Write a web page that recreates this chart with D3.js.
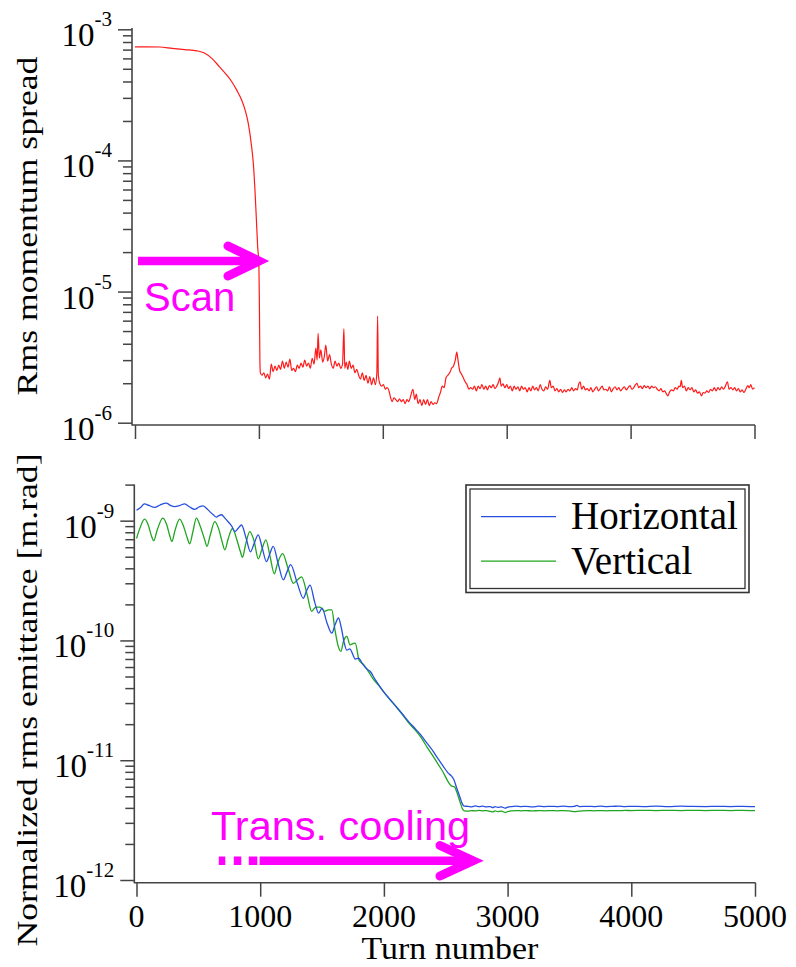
<!DOCTYPE html>
<html><head><meta charset="utf-8">
<script src="https://cdn.jsdelivr.net/npm/d3@7"></script>
<style>body{margin:0;background:#fff}svg{display:block}</style>
</head><body>
<script>
// ---------- data ----------
const turnTicks = [0, 1000, 2000, 3000, 4000, 5000];
const momDecades = [1e-6, 1e-5, 1e-4, 1e-3];
const emitDecades = [1e-12, 1e-11, 1e-10, 1e-9];
const minorMultipliers = [2, 3, 4, 5, 6, 7, 8, 9];
const legendLabels = ["Horizontal", "Vertical"];
const annotations = ["Scan", "Trans. cooling"];
const axisTitles = ["Rms momentum spread", "Normalized rms emittance [m.rad]", "Turn number"];

// [turn, rms momentum spread]
const momentum = [
[0,7.35e-4],[100,7.35e-4],[200,7.33e-4],[300,7.15e-4],[400,7.0e-4],[500,6.85e-4],[560,6.6e-4],
[620,6.0e-4],[680,5.2e-4],[730,4.6e-4],[780,4.0e-4],[820,3.45e-4],[860,2.9e-4],[890,2.4e-4],
[915,1.9e-4],[940,1.3e-4],[955,9.5e-5],[968,6.0e-5],[980,3.5e-5],[990,2.2e-5],[1000,1.6e-5],
[1004,8e-6],[1008,3e-6],[1012,2.4e-6],
[1025,2.3e-6],[1040,2.4e-6],[1055,2.2e-6],[1070,2.35e-6],[1085,2.15e-6],[1100,2.8e-6],[1115,2.45e-6],
[1130,2.7e-6],[1145,2.5e-6],[1160,2.75e-6],[1175,2.55e-6],[1190,2.95e-6],[1205,2.6e-6],[1220,2.9e-6],
[1235,2.65e-6],[1250,3.05e-6],[1265,2.5e-6],[1280,2.6e-6],[1295,2.45e-6],[1310,2.75e-6],[1325,2.6e-6],
[1340,2.85e-6],[1355,2.65e-6],[1370,3.0e-6],[1385,2.7e-6],[1400,2.85e-6],[1415,2.6e-6],[1430,3.1e-6],
[1445,2.8e-6],[1460,3.7e-6],[1470,3.0e-6],[1478,4.8e-6],[1488,3.1e-6],[1500,3.6e-6],[1515,2.9e-6],
[1528,3.2e-6],[1540,3.9e-6],[1555,2.95e-6],[1570,3.3e-6],[1585,2.8e-6],[1600,2.6e-6],[1615,2.95e-6],
[1630,2.7e-6],[1645,2.85e-6],[1660,2.6e-6],[1675,2.8e-6],[1686,5.2e-6],[1693,2.6e-6],[1705,2.9e-6],
[1718,2.55e-6],[1730,2.95e-6],[1745,2.6e-6],[1760,2.75e-6],[1775,2.4e-6],[1790,2.55e-6],[1805,2.3e-6],
[1820,2.15e-6],[1835,2.4e-6],[1850,2.1e-6],[1865,2.3e-6],[1880,2.0e-6],[1895,2.25e-6],[1910,1.95e-6],
[1925,2.2e-6],[1940,1.95e-6],[1952,2.4e-6],[1958,6.5e-6],[1964,2.3e-6],[1975,2.0e-6],[1990,1.9e-6],
[2005,1.95e-6],[2020,1.8e-6],[2035,1.85e-6],[2050,1.75e-6],[2063,1.55e-6],[2076,1.45e-6],[2090,1.55e-6],
[2105,1.5e-6],[2120,1.45e-6],[2135,1.52e-6],[2150,1.45e-6],[2165,1.5e-6],[2180,1.4e-6],[2195,1.5e-6],
[2210,1.45e-6],[2225,1.6e-6],[2243,1.8e-6],[2258,1.5e-6],[2270,1.65e-6],[2285,1.4e-6],[2300,1.5e-6],
[2315,1.35e-6],[2330,1.5e-6],[2345,1.38e-6],[2360,1.5e-6],[2375,1.35e-6],[2390,1.45e-6],[2405,1.38e-6],
[2420,1.42e-6],[2435,1.4e-6],[2450,1.55e-6],[2465,1.7e-6],[2480,1.9e-6],[2495,1.85e-6],[2510,2.2e-6],
[2525,2.3e-6],[2540,2.4e-6],[2555,2.6e-6],[2570,2.7e-6],[2585,3.0e-6],[2597,3.45e-6],[2608,2.95e-6],
[2620,2.5e-6],[2635,2.35e-6],[2650,2.2e-6],[2665,2.05e-6],[2680,1.95e-6],[2695,1.8e-6],[2710,1.85e-6],
[2725,1.8e-6],[2740,1.9e-6],[2755,1.75e-6],[2770,1.9e-6],[2785,1.82e-6],[2800,1.95e-6],[2815,1.8e-6],
[2830,1.9e-6],[2845,1.78e-6],[2860,1.92e-6],[2875,1.85e-6],[2890,1.95e-6],[2905,1.82e-6],[2920,1.9e-6],
[2935,2.05e-6],[2945,2.2e-6],[2955,1.9e-6],[2970,1.98e-6],[2985,1.85e-6],[3000,1.95e-6],[3015,1.82e-6],
[3030,1.9e-6],[3045,1.75e-6],[3060,1.9e-6],[3075,1.8e-6],[3090,1.88e-6],[3105,1.75e-6],[3120,1.9e-6],
[3135,1.8e-6],[3150,1.85e-6],[3165,1.72e-6],[3180,1.85e-6],[3195,1.75e-6],[3210,1.9e-6],[3225,1.78e-6],
[3240,1.85e-6],[3255,1.75e-6],[3270,1.95e-6],[3285,1.8e-6],[3300,1.75e-6],[3315,1.88e-6],[3330,1.8e-6],
[3348,2.1e-6],[3360,1.85e-6],[3375,1.9e-6],[3390,1.75e-6],[3405,1.82e-6],[3420,1.72e-6],[3435,1.8e-6],
[3450,1.7e-6],[3465,1.78e-6],[3480,1.72e-6],[3495,1.8e-6],[3510,1.75e-6],[3525,1.85e-6],[3540,1.75e-6],
[3555,1.82e-6],[3570,1.78e-6],[3580,1.95e-6],[3592,2.05e-6],[3605,1.8e-6],[3620,1.9e-6],[3635,1.78e-6],
[3650,1.82e-6],[3665,1.75e-6],[3680,1.85e-6],[3695,1.72e-6],[3710,1.8e-6],[3725,1.88e-6],[3740,1.75e-6],
[3755,1.82e-6],[3770,1.9e-6],[3785,1.78e-6],[3800,1.8e-6],[3815,1.75e-6],[3830,1.88e-6],[3845,1.72e-6],
[3860,1.82e-6],[3875,1.88e-6],[3890,1.78e-6],[3905,1.85e-6],[3920,1.75e-6],[3935,1.82e-6],[3950,1.88e-6],
[3965,1.78e-6],[3980,1.85e-6],[3995,1.92e-6],[4010,1.8e-6],[4025,1.85e-6],[4040,1.95e-6],[4052,2.0e-6],
[4065,1.85e-6],[4080,1.9e-6],[4095,1.82e-6],[4110,1.92e-6],[4125,1.85e-6],[4140,1.9e-6],[4155,1.82e-6],
[4170,1.9e-6],[4185,1.85e-6],[4200,1.88e-6],[4215,1.8e-6],[4230,1.75e-6],[4245,1.82e-6],[4260,1.72e-6],
[4275,1.75e-6],[4290,1.65e-6],[4300,1.6e-6],[4315,1.72e-6],[4330,1.78e-6],[4345,1.75e-6],[4360,1.85e-6],
[4375,1.8e-6],[4390,1.9e-6],[4400,1.88e-6],[4409,2.1e-6],[4420,1.85e-6],[4435,1.9e-6],[4450,1.75e-6],
[4465,1.85e-6],[4480,1.78e-6],[4495,1.85e-6],[4510,1.72e-6],[4525,1.78e-6],[4540,1.68e-6],[4555,1.72e-6],
[4572,1.6e-6],[4585,1.7e-6],[4600,1.68e-6],[4615,1.75e-6],[4630,1.7e-6],[4645,1.8e-6],[4660,1.75e-6],
[4675,1.85e-6],[4690,1.75e-6],[4705,1.85e-6],[4720,1.78e-6],[4735,1.88e-6],[4750,1.8e-6],[4765,1.9e-6],
[4781,2.05e-6],[4795,1.8e-6],[4810,1.85e-6],[4825,1.78e-6],[4840,1.85e-6],[4855,1.75e-6],[4870,1.82e-6],
[4885,1.72e-6],[4900,1.78e-6],[4915,1.7e-6],[4930,1.8e-6],[4945,1.92e-6],[4958,1.85e-6],[4970,1.95e-6],
[4985,1.8e-6],[5000,1.85e-6]
];

// [turn, normalized rms emittance] horizontal
const horizontal = [
[0,1.22e-9],[30,1.28e-9],[65,1.38e-9],[100,1.34e-9],[146,1.29e-9],[190,1.35e-9],[241,1.40e-9],
[275,1.34e-9],[308,1.31e-9],[350,1.34e-9],[389,1.38e-9],[430,1.30e-9],[470,1.24e-9],[505,1.30e-9],
[538,1.33e-9],[565,1.27e-9],[592,1.19e-9],[620,1.12e-9],[646,1.07e-9],[665,1.10e-9],[687,1.12e-9],
[715,1.05e-9],[741,0.98e-9],[770,0.90e-9],[795,0.81e-9],[820,0.86e-9],[849,0.92e-9],[885,0.72e-9],
[922,0.55e-9],[950,0.64e-9],[984,0.76e-9],[1015,0.60e-9],[1051,0.455e-9],[1078,0.53e-9],[1105,0.61e-9],
[1145,0.44e-9],[1187,0.32e-9],[1215,0.37e-9],[1246,0.43e-9],[1300,0.30e-9],[1349,0.225e-9],[1375,0.26e-9],
[1403,0.29e-9],[1440,0.21e-9],[1472,0.169e-9],[1500,0.186e-9],[1540,0.14e-9],[1579,0.115e-9],[1605,0.135e-9],
[1633,0.154e-9],[1656,0.127e-9],[1680,0.095e-9],[1700,0.083e-9],[1725,0.085e-9],[1745,0.078e-9],[1768,0.070e-9],
[1795,0.071e-9],[1830,0.063e-9],[1860,0.058e-9],[1890,0.055e-9],[1930,0.047e-9],[2000,0.037e-9],
[2050,0.0322e-9],[2100,0.028e-9],[2150,0.0243e-9],[2200,0.021e-9],[2250,0.0185e-9],[2300,0.0162e-9],
[2350,0.0138e-9],[2400,0.0118e-9],[2440,0.0102e-9],[2480,0.0089e-9],[2520,0.0078e-9],[2545,0.0074e-9],
[2565,0.0069e-9],[2590,0.0058e-9],[2615,0.0049e-9],[2635,0.0043e-9],[2650,0.00414e-9],
[2680,4.12e-12],[2710,4.08e-12],[2740,4.15e-12],[2770,4.1e-12],[2800,4.13e-12],[2830,4.08e-12],[2860,4.1e-12],
[2880,4.02e-12],[2900,4.1e-12],[2920,4.04e-12],[2950,4.08e-12],[2980,3.98e-12],[3000,4.05e-12],[3030,4.1e-12],
[3070,4.13e-12],[3110,4.1e-12],[3150,4.12e-12],[3200,4.08e-12],[3250,4.13e-12],[3300,4.1e-12],[3350,4.12e-12],
[3400,4.1e-12],[3450,4.14e-12],[3500,4.1e-12],[3540,4.12e-12],[3560,4.2e-12],[3580,4.1e-12],[3650,4.12e-12],
[3700,4.1e-12],[3750,4.14e-12],[3800,4.1e-12],[3850,4.12e-12],[3900,4.14e-12],[3950,4.1e-12],[4000,4.12e-12],
[4100,4.1e-12],[4200,4.14e-12],[4300,4.1e-12],[4400,4.13e-12],[4500,4.11e-12],[4600,4.1e-12],[4700,4.12e-12],
[4800,4.1e-12],[4900,4.12e-12],[5000,4.1e-12]
];

// [turn, normalized rms emittance] vertical
const vertical = [
[0,0.71e-9],[25,0.85e-9],[65,1.03e-9],[95,0.92e-9],[120,0.75e-9],[140,0.68e-9],[165,0.82e-9],
[213,1.05e-9],[245,0.92e-9],[270,0.74e-9],[286,0.67e-9],[310,0.82e-9],[349,1.03e-9],[380,0.90e-9],
[410,0.72e-9],[430,0.64e-9],[455,0.80e-9],[484,1.05e-9],[515,0.90e-9],[550,0.70e-9],[570,0.61e-9],
[595,0.75e-9],[633,0.98e-9],[665,0.85e-9],[695,0.65e-9],[714,0.57e-9],[740,0.70e-9],[776,0.86e-9],
[810,0.70e-9],[840,0.55e-9],[857,0.495e-9],[880,0.62e-9],[916,0.81e-9],[950,0.68e-9],[985,0.48e-9],
[1010,0.56e-9],[1046,0.69e-9],[1080,0.50e-9],[1114,0.36e-9],[1140,0.44e-9],[1181,0.53e-9],[1225,0.40e-9],
[1268,0.30e-9],[1300,0.32e-9],[1335,0.34e-9],[1380,0.24e-9],[1416,0.175e-9],[1450,0.19e-9],[1483,0.19e-9],
[1520,0.175e-9],[1550,0.18e-9],[1579,0.18e-9],[1604,0.123e-9],[1630,0.09e-9],[1652,0.081e-9],[1675,0.10e-9],
[1701,0.108e-9],[1726,0.092e-9],[1750,0.094e-9],[1768,0.095e-9],[1800,0.068e-9],[1835,0.063e-9],
[1870,0.056e-9],[1917,0.047e-9],[1960,0.042e-9],[2000,0.037e-9],[2050,0.032e-9],[2100,0.0278e-9],
[2150,0.024e-9],[2200,0.0205e-9],[2250,0.018e-9],[2300,0.0155e-9],[2350,0.0128e-9],[2400,0.0107e-9],
[2440,0.0092e-9],[2480,0.0079e-9],[2520,0.0066e-9],[2545,0.0061e-9],[2570,0.006e-9],[2590,0.0054e-9],
[2615,0.0045e-9],[2635,0.00392e-9],[2650,0.00378e-9],
[2680,3.76e-12],[2710,3.8e-12],[2740,3.77e-12],[2770,3.82e-12],[2800,3.78e-12],[2830,3.8e-12],[2860,3.74e-12],
[2880,3.7e-12],[2900,3.78e-12],[2920,3.72e-12],[2950,3.76e-12],[2980,3.66e-12],[3000,3.72e-12],[3030,3.78e-12],
[3070,3.8e-12],[3110,3.78e-12],[3150,3.8e-12],[3200,3.77e-12],[3250,3.8e-12],[3300,3.78e-12],[3350,3.8e-12],
[3400,3.78e-12],[3450,3.8e-12],[3500,3.77e-12],[3550,3.72e-12],[3600,3.78e-12],[3650,3.8e-12],[3700,3.78e-12],
[3750,3.8e-12],[3800,3.78e-12],[3850,3.8e-12],[3900,3.79e-12],[3950,3.81e-12],[4000,3.8e-12],[4100,3.82e-12],
[4200,3.8e-12],[4300,3.82e-12],[4400,3.8e-12],[4500,3.82e-12],[4600,3.8e-12],[4700,3.82e-12],[4800,3.8e-12],
[4900,3.82e-12],[5000,3.8e-12]
];

// ---------- drawing ----------
const W = 796, H = 967;
const axisColor = "#444";
const serif = "'Liberation Serif','Times New Roman',serif";
const sans = "'Liberation Sans',Arial,sans-serif";
const magenta = "#ff00ff";

const svg = d3.select("body").append("svg").attr("width", W).attr("height", H)
  .style("background", "#fff");

const xTop = d3.scaleLinear().domain([0, 5000]).range([135, 754.5]);
const yTop = d3.scaleLog().domain([1e-6, 1e-3]).range([422.7, 29.3]);
const xBot = d3.scaleLinear().domain([0, 5000]).range([136.5, 755]);
const yBot = d3.scaleLog().domain([1e-12, 2e-9]).range([880, 484.6]);

function drawPanel(x, y, decades, yAxisX, xAxisY, yTopPix, showXLabels) {
  const g = svg.append("g");
  const minors = [];
  decades.forEach(d => minorMultipliers.forEach(m => {
    const v = d * m;
    if (v <= y.domain()[1] * 1.0001) minors.push(v);
  }));
  const yMinor = g.append("g").attr("transform", `translate(${yAxisX},0)`)
    .call(d3.axisLeft(y).tickValues(minors).tickSize(9).tickFormat(""));
  const yMajor = g.append("g").attr("transform", `translate(${yAxisX},0)`)
    .call(d3.axisLeft(y).tickValues(decades).tickSize(14).tickFormat(""));
  const xAx = g.append("g").attr("transform", `translate(0,${xAxisY})`)
    .call(d3.axisBottom(x).tickValues(turnTicks).tickSize(14).tickFormat(""));
  [yMinor, yMajor, xAx].forEach(a => {
    a.select(".domain").remove();
    a.selectAll(".tick line").attr("stroke", axisColor).attr("stroke-width", 1.5);
  });
  g.append("line").attr("x1", yAxisX).attr("x2", yAxisX).attr("y1", yTopPix).attr("y2", xAxisY + 0.5)
    .attr("stroke", axisColor).attr("stroke-width", 1.6);
  g.append("line").attr("x1", yAxisX).attr("x2", x.range()[1] + 0.5).attr("y1", xAxisY).attr("y2", xAxisY)
    .attr("stroke", axisColor).attr("stroke-width", 1.6);
  decades.forEach(d => {
    const e = Math.round(Math.log10(d));
    const t = g.append("text").attr("x", yAxisX - 20).attr("y", y(d) + 17)
      .attr("text-anchor", "end").attr("font-family", serif).attr("font-size", 33).attr("fill", "#000");
    t.append("tspan").text("10");
    t.append("tspan").attr("dy", -20).attr("font-size", 21).text(String(e));
  });
  if (showXLabels) {
    turnTicks.forEach(v => {
      g.append("text").attr("x", x(v)).attr("y", xAxisY + 44).attr("text-anchor", "middle")
        .attr("font-family", serif).attr("font-size", 32).attr("fill", "#000").text(v);
    });
  }
  return g;
}

drawPanel(xTop, yTop, momDecades, 132, 425, 28, false);
drawPanel(xBot, yBot, emitDecades, 134.3, 882.7, 484.6, true);

function yTitle(txt, cx, cy) {
  svg.append("text").attr("transform", `translate(${cx},${cy}) rotate(-90) scale(1.23,1)`)
    .attr("text-anchor", "middle").attr("font-family", serif).attr("font-size", 29)
    .attr("fill", "#000").text(txt);
}
yTitle(axisTitles[0], 37, 226);
yTitle(axisTitles[1], 37, 700);

svg.append("text").attr("x", 450).attr("y", 959.5).attr("text-anchor", "middle")
  .attr("font-family", serif).attr("font-size", 32).attr("fill", "#000")
  .attr("transform", "translate(450,0) scale(1.06,1) translate(-450,0)").text(axisTitles[2]);

const lineTop = d3.line().x(d => xTop(d[0])).y(d => yTop(d[1])).curve(d3.curveMonotoneX);
const lineBot = d3.line().x(d => xBot(d[0])).y(d => yBot(d[1])).curve(d3.curveMonotoneX);
svg.append("path").datum(momentum).attr("d", lineTop).attr("fill", "none")
  .attr("stroke", "#ff1a1a").attr("stroke-width", 1.2).attr("stroke-linejoin", "round");
svg.append("path").datum(vertical).attr("d", lineBot).attr("fill", "none")
  .attr("stroke", "#1fa51f").attr("stroke-width", 1.3).attr("stroke-linejoin", "round");
svg.append("path").datum(horizontal).attr("d", lineBot).attr("fill", "none")
  .attr("stroke", "#2850e0").attr("stroke-width", 1.3).attr("stroke-linejoin", "round");

const lg = svg.append("g");
lg.append("rect").attr("x", 466).attr("y", 485).attr("width", 283).attr("height", 107.5)
  .attr("fill", "#fff").attr("stroke", "#333").attr("stroke-width", 1.6);
lg.append("rect").attr("x", 470).attr("y", 489).attr("width", 275).attr("height", 99.5)
  .attr("fill", "none").attr("stroke", "#333").attr("stroke-width", 1.3);
const legendColors = ["#2850e0", "#1fa51f"];
legendLabels.forEach((l, i) => {
  const yy = 516.7 + i * 44.5;
  lg.append("line").attr("x1", 481).attr("x2", 556).attr("y1", yy).attr("y2", yy)
    .attr("stroke", legendColors[i]).attr("stroke-width", 1.3);
  lg.append("text").attr("x", 571).attr("y", yy + 12.7).attr("font-family", serif)
    .attr("font-size", 39).attr("fill", "#000").text(l);
});

const scanTipX = xTop(1000), scanY = 261;
svg.append("line").attr("x1", 138).attr("x2", scanTipX - 3).attr("y1", scanY).attr("y2", scanY)
  .attr("stroke", magenta).attr("stroke-width", 8.5);
svg.append("path").attr("d", `M228,246 L${scanTipX},${scanY} L228,276`).attr("fill", "none")
  .attr("stroke", magenta).attr("stroke-width", 9).attr("stroke-linecap", "round").attr("stroke-linejoin", "miter");
svg.append("text").attr("x", 144).attr("y", 311).attr("font-family", sans).attr("font-size", 40)
  .attr("fill", magenta).text(annotations[0]);

const coolY = 860.7, coolTip = 473;
svg.append("line").attr("x1", 218.8).attr("x2", 257.5).attr("y1", coolY).attr("y2", coolY)
  .attr("stroke", magenta).attr("stroke-width", 8.5).attr("stroke-dasharray", "6.5,8.5,7.5,7.5,8.5,3");
svg.append("line").attr("x1", 259.6).attr("x2", coolTip - 3).attr("y1", coolY).attr("y2", coolY)
  .attr("stroke", magenta).attr("stroke-width", 8.5);
svg.append("path").attr("d", `M440,845.5 L${coolTip},${coolY} L440,876`).attr("fill", "none")
  .attr("stroke", magenta).attr("stroke-width", 9).attr("stroke-linecap", "round").attr("stroke-linejoin", "miter");
svg.append("text").attr("x", 211).attr("y", 840).attr("font-family", sans).attr("font-size", 41.5)
  .attr("fill", magenta).text(annotations[1]);
</script>
</body></html>
